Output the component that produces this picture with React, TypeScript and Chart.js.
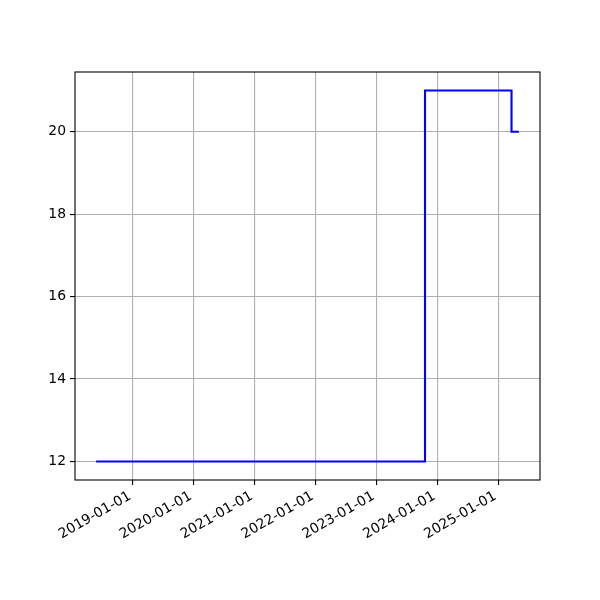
import React, { useEffect, useRef } from "react";
import { Chart, registerables } from "chart.js";

Chart.register(...registerables);

const dates = ["2018-05-25", "2023-10-19", "2025-03-21", "2025-05-04"];
const values = [12, 21, 20, 20];
const xTickDates = ["2019-01-01", "2020-01-01", "2021-01-01", "2022-01-01", "2023-01-01", "2024-01-01", "2025-01-01"];
const yTickValues = [12, 14, 16, 18, 20];

const toMs = (d: string) => Date.parse(d + "T00:00:00Z");

export default function App() {
  const ref = useRef<HTMLCanvasElement | null>(null);
  useEffect(() => {
    if (!ref.current) return;
    const xs = dates.map(toMs);
    const x0 = Math.min(...xs);
    const x1 = Math.max(...xs);
    const xm = (x1 - x0) * 0.05;
    const y0 = Math.min(...values);
    const y1 = Math.max(...values);
    const ym = (y1 - y0) * 0.05;
    const font = { family: "DejaVu Sans", size: 13.9 };
    const frame = {
      id: "frame",
      afterDatasetsDraw(chart: any) {
        const { ctx, chartArea: a } = chart;
        ctx.save();
        ctx.strokeStyle = "#000";
        ctx.lineWidth = 1.1;
        ctx.strokeRect(a.left, a.top, a.right - a.left, a.bottom - a.top);
        ctx.restore();
      },
    };
    const chart = new Chart(ref.current, {
      type: "line",
      data: {
        datasets: [
          {
            data: xs.map((x, i) => ({ x, y: values[i] })),
            borderColor: "#0000ff",
            borderWidth: 2.1,
            pointRadius: 0,
            stepped: "before",
            fill: false,
          },
        ],
      },
      options: {
        responsive: false,
        animation: false,
        layout: { padding: { left: 0, top: 72, right: 60, bottom: 0 } },
        plugins: { legend: { display: false }, tooltip: { enabled: false } },
        scales: {
          x: {
            type: "linear",
            min: x0 - xm,
            max: x1 + xm,
            afterBuildTicks: (s: any) => {
              s.ticks = xTickDates.map((d) => ({ value: toMs(d) }));
            },
            afterFit: (s: any) => {
              s.height = 120;
            },
            ticks: {
              autoSkip: false,
              minRotation: 30,
              maxRotation: 30,
              padding: 3,
              labelOffset: -3,
              color: "#000",
              font,
              callback: (v: any) => new Date(Number(v)).toISOString().slice(0, 10),
            },
            grid: { color: "#b0b0b0", lineWidth: 1.1, tickColor: "#000", tickLength: 5 },
            border: { display: false },
          },
          y: {
            type: "linear",
            min: y0 - ym,
            max: y1 + ym,
            afterBuildTicks: (s: any) => {
              s.ticks = yTickValues.map((v) => ({ value: v }));
            },
            afterFit: (s: any) => {
              s.width = 75;
            },
            ticks: { padding: 4, color: "#000", font },
            grid: { color: "#b0b0b0", lineWidth: 1.1, tickColor: "#000", tickLength: 5 },
            border: { display: false },
          },
        },
      },
      plugins: [frame],
    });
    return () => chart.destroy();
  }, []);
  return (
    <div style={{ position: "absolute", left: 0, top: 0, width: 600, height: 600, background: "#fff" }}>
      <canvas ref={ref} width={600} height={600} style={{ width: 600, height: 600 }} />
    </div>
  );
}
